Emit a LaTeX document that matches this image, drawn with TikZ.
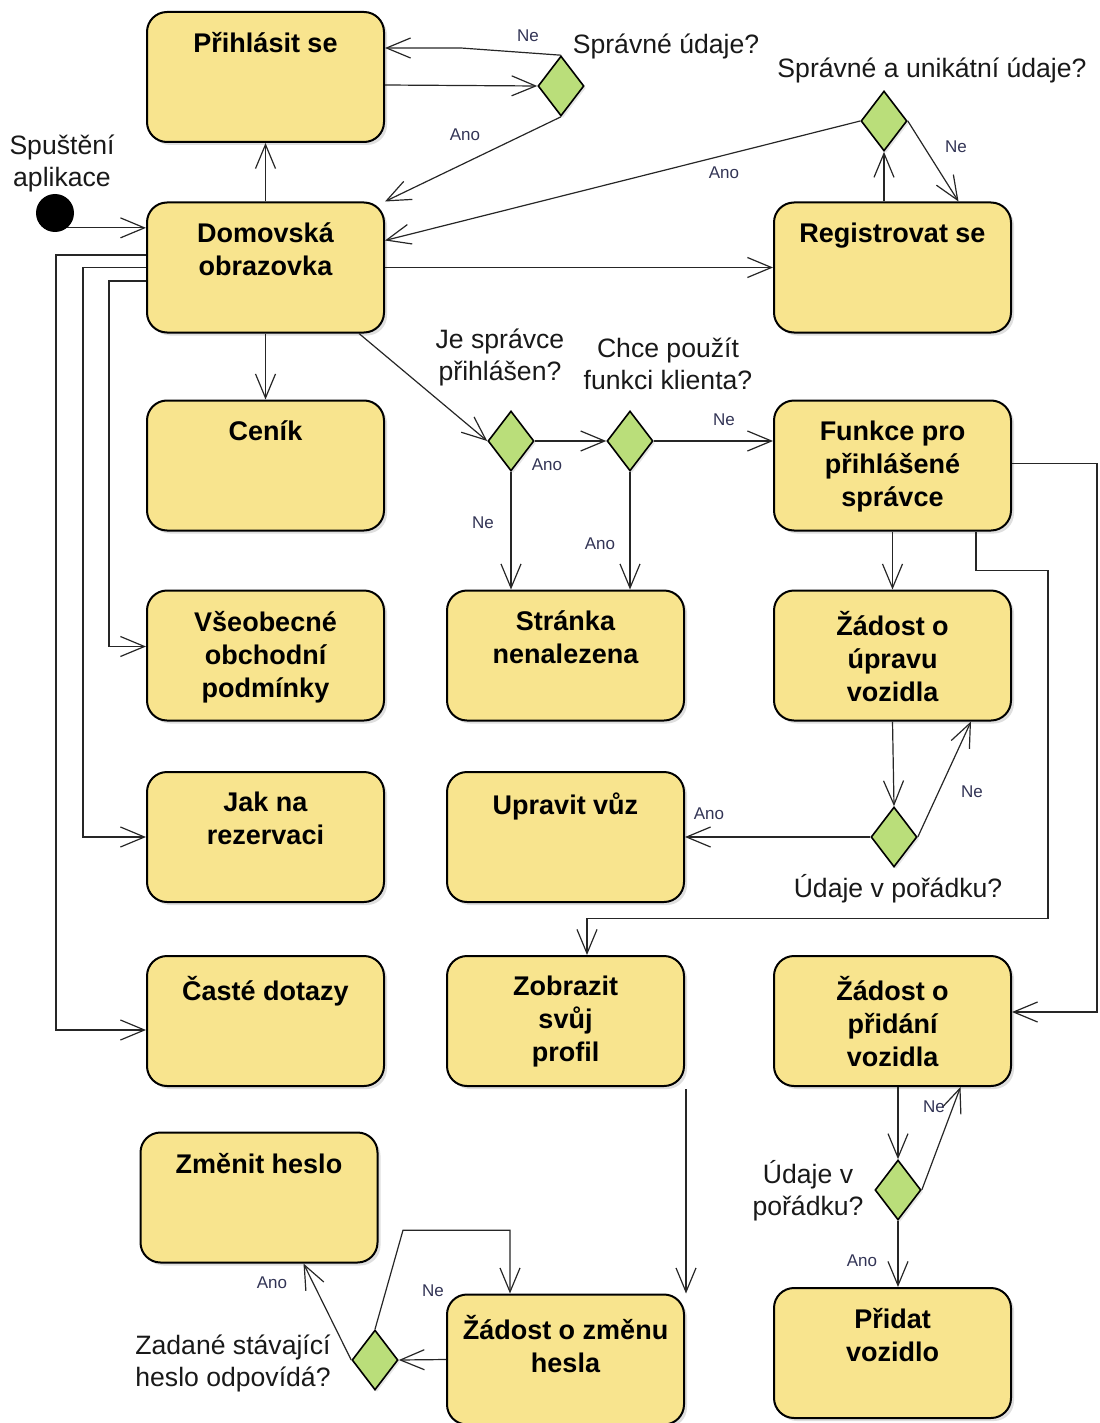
\documentclass[tikz,border=0pt]{standalone}
\usepackage{fontspec}
\setmainfont{Liberation Sans}
\usetikzlibrary{arrows.meta,shadows,shapes.geometric}
\definecolor{stateyellow}{RGB}{248,228,142}
\definecolor{choicegreen}{RGB}{186,222,122}
\definecolor{answerblue}{RGB}{50,52,85}

\begin{document}
\begin{tikzpicture}[x=0.5pt,y=-0.5pt,
  state/.style={draw=black, line width=1pt, fill=stateyellow, rounded corners=10pt,
    minimum width=118.5pt, minimum height=65pt, inner sep=0pt,
    drop shadow={shadow xshift=1.5pt, shadow yshift=-1.5pt, opacity=0.25}},
  title/.style={anchor=north, yshift=-10.5pt, align=center, inner sep=0pt,
    font=\fontsize{13.5}{16.5}\selectfont\bfseries},
  choice/.style={diamond, draw=black, line width=0.8pt, fill=choicegreen,
    minimum width=23pt, minimum height=30pt, inner sep=0pt,
    drop shadow={shadow xshift=1pt, shadow yshift=-1pt, opacity=0.2}},
  question/.style={align=center, text=black!90, font=\fontsize{13.3}{16}\selectfont},
  answer/.style={text=answerblue, font=\fontsize{8.5}{10}\selectfont},
  flow/.style={draw=black!85, line width=0.6pt, -{Straight Barb[length=12pt,width=10pt]}},
]
\useasboundingbox (0,0) rectangle (1099,1423);

% start
\node[circle, fill=black, minimum size=19pt, inner sep=0pt] (start) at (55,213) {};
\node[question] (startlbl) at (62,163) {Spuštění\\aplikace};

% states
\node[state, label={[title]north:Přihlásit se}] (login) at (265.5,77) {};
\node[state, label={[title]north:Domovská\\obrazovka}] (home) at (265.5,267.5) {};
\node[state, label={[title]north:Registrovat se}] (register) at (892.5,267.5) {};
\node[state, label={[title]north:Ceník}] (pricing) at (265.5,465.5) {};
\node[state, label={[title]north:Funkce pro\\přihlášené\\správce}] (adminfn) at (892.5,465.5) {};
\node[state, label={[title]north:Všeobecné\\obchodní\\podmínky}] (terms) at (265.5,655.5) {};
\node[state, label={[title]north:Stránka\\nenalezena}] (notfound) at (565.5,655.5) {};
\node[state, label={[title]north:Žádost o\\úpravu\\vozidla}] (editreq) at (892.5,655.5) {};
\node[state, label={[title]north:Jak na\\rezervaci}] (howto) at (265.5,837) {};
\node[state, label={[title]north:Upravit vůz}] (editcar) at (565.5,837) {};
\node[state, label={[title]north:Časté dotazy}] (faq) at (265.5,1021) {};
\node[state, label={[title]north:Zobrazit\\svůj\\profil}] (profile) at (565.5,1021) {};
\node[state, label={[title]north:Žádost o\\přidání\\vozidla}] (addreq) at (892.5,1021) {};
\node[state, label={[title]north:Změnit heslo}] (chpass) at (259,1197.5) {};
\node[state, label={[title]north:Žádost o změnu\\hesla}] (pwreq) at (565.5,1359.5) {};
\node[state, label={[title]north:Přidat\\vozidlo}] (addcar) at (892.5,1353) {};

% decisions
\node[choice] (dlogin) at (561,86) {};
\node[choice] (dreg) at (884,121) {};
\node[choice] (dadmin) at (511,441) {};
\node[choice] (dclient) at (630,441) {};
\node[choice] (dedit) at (894,837) {};
\node[choice] (dadd) at (898,1190) {};
\node[choice] (dpass) at (375,1360) {};

\node[question] (qlogin) at (666,46) {Správné údaje?};
\node[question] (qreg) at (932,70) {Správné a unikátní údaje?};
\node[question] (qadmin) at (500,357) {Je správce\\přihlášen?};
\node[question] (qclient) at (668,364) {Chce použít\\funkci klienta?};
\node[question] (qedit) at (898,889) {Údaje v pořádku?};
\node[question] (qadd) at (808,1191) {Údaje v\\pořádku?};
\node[question] (qpass) at (233,1363) {Zadané stávající\\heslo odpovídá?};

% transitions
\draw[flow] (start.-50) -- (start.-50 -| home.west);
\draw[flow] (home.north) -- (login.south);
\draw[flow] ([yshift=-4pt]login.east) -- (dlogin.west);
\coordinate (nebend) at (461,48);
\draw[flow] (dlogin.north) -- (nebend) -- (nebend -| login.east);
\draw[flow] (dlogin.south) -- (home.north east);
\draw[flow] (dreg.south |- register.north) -- (dreg.south);
\draw[flow] (dreg.east) -- ([xshift=33pt]register.north);
\draw[flow] (dreg.west) -- ([yshift=13.5pt]home.east);
\draw[flow] (home.east) -- (register.west);
\draw[flow] (home.south) -- (pricing.north);
\draw[flow] ([yshift=-6.75pt]home.west) -- ++(-37,0) |- ([yshift=4.5pt]terms.west);
\draw[flow] (home.west) -- ++(-63,0) |- (howto.west);
\draw[flow] ([yshift=6.25pt]home.west) -- ++(-90,0) |- ([yshift=-4.5pt]faq.west);
\draw[flow] ([xshift=-13pt]home.south east) -- (dadmin.west);
\draw[flow] (dadmin.east) -- (dclient.west);
\draw[flow] (dadmin.south) -- (dadmin.south |- notfound.north);
\draw[flow] (dclient.south) -- (dclient.south |- notfound.north);
\draw[flow] (dclient.east) -- (dclient.east -| adminfn.west);
\draw[flow] (adminfn.south) -- (editreq.north);
\draw[flow] ([yshift=1pt]adminfn.east) -- ++(85,0) |- ([yshift=4.5pt]addreq.east);
\draw[flow] ([xshift=-18pt]adminfn.south east) -- ++(0,39) -- ++(72,0) -- ++(0,348) -| ([xshift=10.75pt]profile.north);
\draw[flow] (editreq.south) -- (dedit.north);
\draw[flow] (dedit.east) -- ([xshift=-20.5pt]editreq.south east);
\draw[flow] (dedit.west) -- (dedit.west -| editcar.east);
\draw[flow] ([xshift=0.5pt,yshift=-1pt]profile.south east) -- ([xshift=0.5pt]profile.south east |- pwreq.north);
\draw[flow] (pwreq.west) -- (dpass.east);
\draw[flow] (dpass.west) -- ([xshift=-37.5pt]chpass.south east);
\draw[flow] (dpass.north) -- ++(28,-99) -| ([xshift=-27.75pt]pwreq.north);
\draw[flow] (dadd.north |- addreq.south) -- (dadd.north);
\draw[flow] (dadd.east) -- ([xshift=-25.75pt]addreq.south east);
\draw[flow] (dadd.south) -- (dadd.south |- addcar.north);

% guard labels
\node[answer] (a1) at (528,36) {Ne};
\node[answer] (a2) at (465,135) {Ano};
\node[answer] (a3) at (724,173) {Ano};
\node[answer] (a4) at (956,147) {Ne};
\node[answer] (a5) at (547,465) {Ano};
\node[answer] (a6) at (483,523) {Ne};
\node[answer] (a7) at (600,544) {Ano};
\node[answer] (a8) at (724,420) {Ne};
\node[answer] (a9) at (709,814) {Ano};
\node[answer] (a10) at (972,792) {Ne};
\node[answer] (a11) at (934,1107) {Ne};
\node[answer] (a12) at (862,1261) {Ano};
\node[answer] (a13) at (272,1283) {Ano};
\node[answer] (a14) at (433,1291) {Ne};
\end{tikzpicture}
\end{document}
